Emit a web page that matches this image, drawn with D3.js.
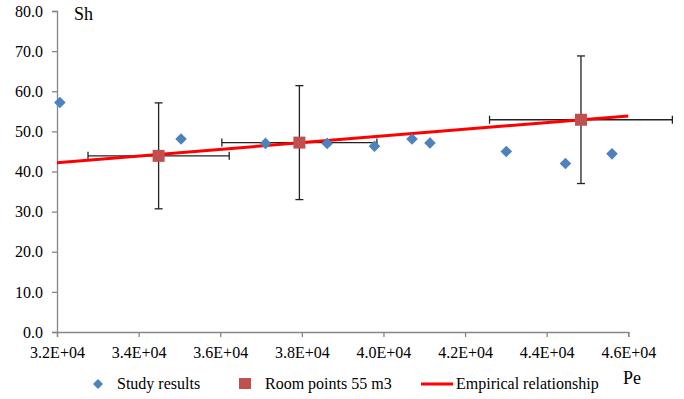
<!DOCTYPE html>
<html><head><meta charset="utf-8">
<script src="https://cdn.jsdelivr.net/npm/d3@7"></script>
</head><body style="margin:0;background:#fff"><svg id="c" width="684" height="399" style="display:block"></svg>
<script>
// Study results
const studyPe = [32070, 35040, 37110, 38620, 39780, 40700, 41140, 43010, 44460, 45600];
const studySh = [57.2, 48.1, 47.0, 47.0, 46.3, 48.1, 47.1, 45.0, 42.0, 44.4];
// Room points 55 m3
const roomPe = [34490, 37940, 44840];
const roomSh = [43.9, 47.2, 52.9];
const roomErrPe = [1730, 1900, 2240];
const roomErrSh = [13.2, 14.2, 15.9];
// Empirical relationship
const empPe = [32000, 46000];
const empSh = [42.2, 53.85];
// ticks
const xTicks = [32000, 34000, 36000, 38000, 40000, 42000, 44000, 46000];
const xTickLabels = ["3.2E+04","3.4E+04","3.6E+04","3.8E+04","4.0E+04","4.2E+04","4.4E+04","4.6E+04"];
const yTicks = [0,10,20,30,40,50,60,70,80];
const yTickLabels = ["0.0","10.0","20.0","30.0","40.0","50.0","60.0","70.0","80.0"];
const legendLabels = ["Study results","Room points 55 m3","Empirical relationship"];

const FONT = "Liberation Serif";
const svg = d3.select("#c");
const x = d3.scaleLinear().domain([32000,46000]).range([57,628.3]);
const y = d3.scaleLinear().domain([0,80]).range([332,11]);
const axisColor = "#868686";

// axes
const xa = svg.append("g").attr("transform","translate(0,332)")
  .call(d3.axisBottom(x).tickValues(xTicks).tickFormat((d,i)=>xTickLabels[i]).tickSize(5).tickPadding(7));
const ya = svg.append("g").attr("transform","translate(57,0)")
  .call(d3.axisLeft(y).tickValues(yTicks).tickFormat((d,i)=>yTickLabels[i]).tickSize(5).tickPadding(9));
[xa,ya].forEach(a=>{
  a.attr("font-family",null);
  a.select(".domain").attr("stroke",axisColor).attr("stroke-width",1.3);
  a.selectAll(".tick line").attr("stroke",axisColor).attr("stroke-width",1.3);
  a.selectAll(".tick text").attr("font-size",16).attr("fill","#000").style("font-family",FONT);
});
xa.selectAll(".tick text").attr("dy","0.85em");

// error bars
const eb = svg.append("g").attr("stroke","#222").attr("stroke-width",1.3);
const cap = 4;
roomPe.forEach((p,i)=>{
  const cx = x(p), cy = y(roomSh[i]);
  const y1 = y(roomSh[i]+roomErrSh[i]), y2 = y(roomSh[i]-roomErrSh[i]);
  const x1 = x(p-roomErrPe[i]), x2 = x(p+roomErrPe[i]);
  eb.append("line").attr("x1",cx).attr("x2",cx).attr("y1",y1).attr("y2",y2);
  eb.append("line").attr("x1",cx-cap).attr("x2",cx+cap).attr("y1",y1).attr("y2",y1);
  eb.append("line").attr("x1",cx-cap).attr("x2",cx+cap).attr("y1",y2).attr("y2",y2);
  eb.append("line").attr("x1",x1).attr("x2",x2).attr("y1",cy).attr("y2",cy);
  eb.append("line").attr("x1",x1).attr("x2",x1).attr("y1",cy-cap).attr("y2",cy+cap);
  eb.append("line").attr("x1",x2).attr("x2",x2).attr("y1",cy-cap).attr("y2",cy+cap);
});

// empirical line
svg.append("path").datum(empPe.map((p,i)=>[p,empSh[i]]))
  .attr("d", d3.line().x(d=>x(d[0])).y(d=>y(d[1])))
  .attr("stroke","#FF0000").attr("stroke-width",3).attr("fill","none");

// room squares
const sq = 12;
svg.append("g").selectAll("rect").data(roomPe).join("rect")
  .attr("x",(d)=>x(d)-sq/2).attr("y",(d,i)=>y(roomSh[i])-sq/2)
  .attr("width",sq).attr("height",sq).attr("fill","#C0504D");

// diamonds
const dm = 5.8;
const diamond = (cx,cy,r)=>`M${cx},${cy-r}L${cx+r},${cy}L${cx},${cy+r}L${cx-r},${cy}Z`;
svg.append("g").selectAll("path").data(studyPe).join("path")
  .attr("d",(d,i)=>diamond(x(d),y(studySh[i]),dm)).attr("fill","#4F81BD");

// axis titles
svg.append("text").attr("x",74).attr("y",20).attr("font-size",18).style("font-family",FONT).text("Sh");
svg.append("text").attr("x",623).attr("y",384).attr("font-size",18).style("font-family",FONT).text("Pe");

// legend
const lg = svg.append("g").attr("font-size",16);
lg.append("path").attr("d",diamond(98,384,5)).attr("fill","#4F81BD");
lg.append("text").attr("x",117).attr("y",389).style("font-family",FONT).text(legendLabels[0]);
lg.append("rect").attr("x",239).attr("y",378).attr("width",12).attr("height",11).attr("fill","#C0504D");
lg.append("text").attr("x",265).attr("y",389).style("font-family",FONT).text(legendLabels[1]);
lg.append("line").attr("x1",421).attr("x2",453).attr("y1",384).attr("y2",384).attr("stroke","#FF0000").attr("stroke-width",3);
lg.append("text").attr("x",456).attr("y",389).style("font-family",FONT).text(legendLabels[2]);
</script></body></html>
